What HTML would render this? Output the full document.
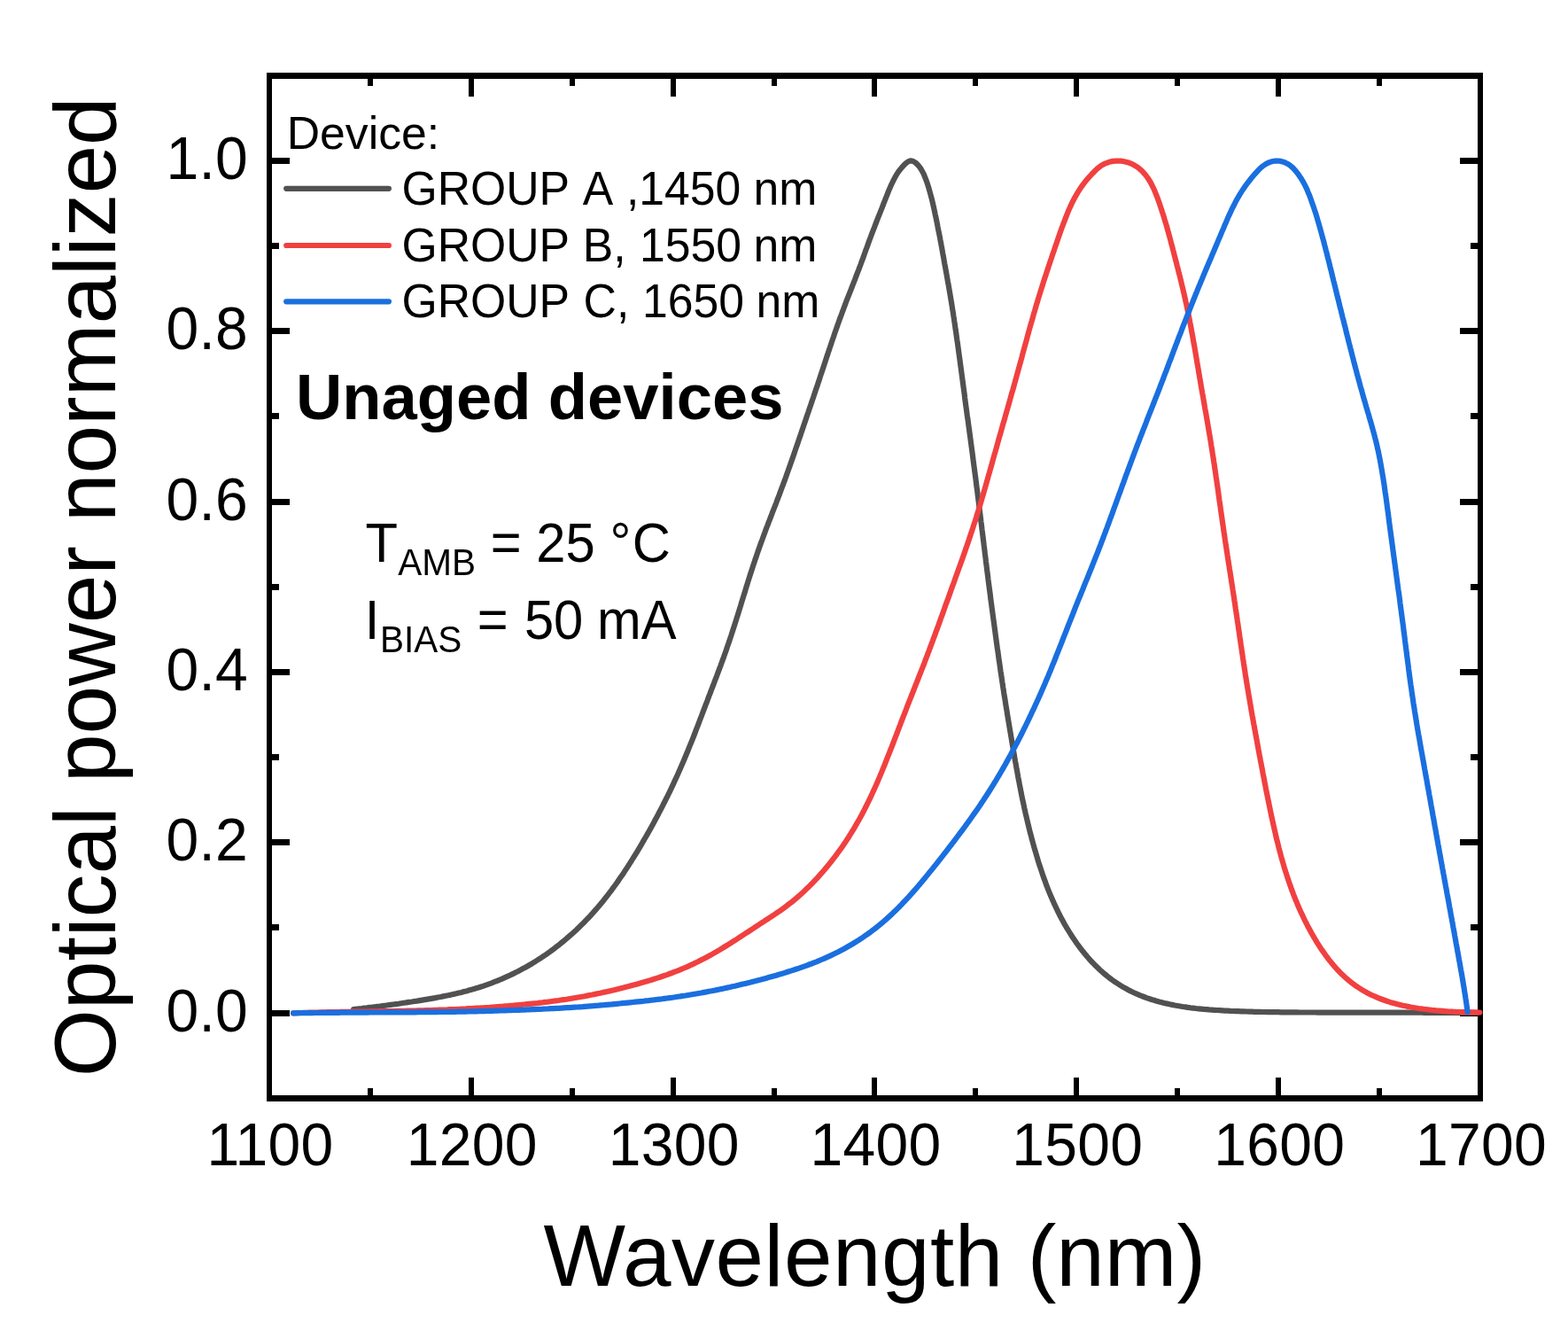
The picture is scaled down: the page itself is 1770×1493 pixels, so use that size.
<!DOCTYPE html>
<html lang="en"><head><meta charset="utf-8"><title>Normalized optical power vs wavelength</title>
<style>
html,body{margin:0;padding:0;background:#fff;}
body{width:1770px;height:1493px;overflow:hidden;}
svg{display:block;}
text{font-family:"Liberation Sans",Arial,Helvetica,sans-serif;fill:#000;white-space:pre;}
.cv{fill:none;stroke-width:6.20;stroke-linejoin:round;stroke-linecap:round;}
</style></head><body>
<svg width="1770" height="1493" viewBox="0 0 1770 1493" role="img" aria-label="Normalized optical power versus wavelength for unaged devices">
<rect x="0" y="0" width="1770" height="1493" fill="#fff"/>
<g id="axes" fill="#000" shape-rendering="crispEdges">
<rect x="415" y="1228" width="6" height="9"/><rect x="415" y="88" width="6" height="9"/><rect x="529" y="1216" width="6" height="21"/><rect x="529" y="88" width="6" height="21"/><rect x="643" y="1228" width="6" height="9"/><rect x="643" y="88" width="6" height="9"/><rect x="757" y="1216" width="6" height="21"/><rect x="757" y="88" width="6" height="21"/><rect x="871" y="1228" width="6" height="9"/><rect x="871" y="88" width="6" height="9"/><rect x="984" y="1216" width="6" height="21"/><rect x="984" y="88" width="6" height="21"/><rect x="1098" y="1228" width="6" height="9"/><rect x="1098" y="88" width="6" height="9"/><rect x="1212" y="1216" width="6" height="21"/><rect x="1212" y="88" width="6" height="21"/><rect x="1326" y="1228" width="6" height="9"/><rect x="1326" y="88" width="6" height="9"/><rect x="1440" y="1216" width="6" height="21"/><rect x="1440" y="88" width="6" height="21"/><rect x="1554" y="1228" width="6" height="9"/><rect x="1554" y="88" width="6" height="9"/><rect x="306" y="1140" width="21" height="7"/><rect x="1648" y="1140" width="21" height="7"/><rect x="306" y="1043" width="9" height="7"/><rect x="1660" y="1043" width="9" height="7"/><rect x="306" y="947" width="21" height="7"/><rect x="1648" y="947" width="21" height="7"/><rect x="306" y="851" width="9" height="7"/><rect x="1660" y="851" width="9" height="7"/><rect x="306" y="755" width="21" height="7"/><rect x="1648" y="755" width="21" height="7"/><rect x="306" y="659" width="9" height="7"/><rect x="1660" y="659" width="9" height="7"/><rect x="306" y="563" width="21" height="7"/><rect x="1648" y="563" width="21" height="7"/><rect x="306" y="466" width="9" height="7"/><rect x="1660" y="466" width="9" height="7"/><rect x="306" y="370" width="21" height="7"/><rect x="1648" y="370" width="21" height="7"/><rect x="306" y="274" width="9" height="7"/><rect x="1660" y="274" width="9" height="7"/><rect x="306" y="178" width="21" height="7"/><rect x="1648" y="178" width="21" height="7"/><rect x="306" y="82" width="9" height="7"/><rect x="1660" y="82" width="9" height="7"/><rect x="301" y="82" width="1373" height="7"/><rect x="301" y="1236" width="1373" height="7"/><rect x="301" y="82" width="6" height="1161"/><rect x="1668" y="82" width="6" height="1161"/>
</g>
<g id="curves">
<path class="cv" stroke="#515151" d="M399.2 1139.0L402.2 1138.7 405.2 1138.3 408.1 1138.0 411.1 1137.6 414.1 1137.3 417.1 1136.9 420.1 1136.6 423.0 1136.2 426.0 1135.8 429.0 1135.5 432.0 1135.1 434.9 1134.7 437.9 1134.3 440.9 1133.9 443.9 1133.5 446.9 1133.1 449.8 1132.7 452.8 1132.2 455.8 1131.8 458.7 1131.4 461.7 1130.9 464.7 1130.5 467.7 1130.0 470.6 1129.6 473.6 1129.1 476.6 1128.6 479.5 1128.1 482.5 1127.6 485.5 1127.1 488.4 1126.6 491.4 1126.1 494.3 1125.5 497.3 1125.0 500.2 1124.4 503.2 1123.8 506.1 1123.2 509.0 1122.6 512.0 1121.9 514.9 1121.3 517.8 1120.6 520.7 1119.9 523.6 1119.1 526.5 1118.4 529.4 1117.6 532.3 1116.8 535.2 1115.9 538.0 1115.1 540.9 1114.2 543.8 1113.3 546.6 1112.3 549.4 1111.3 552.2 1110.3 555.0 1109.3 557.8 1108.2 560.6 1107.1 563.4 1106.0 566.2 1104.8 568.9 1103.6 571.6 1102.4 574.4 1101.2 577.1 1099.9 579.8 1098.6 582.4 1097.3 585.1 1095.9 587.8 1094.5 590.4 1093.1 593.0 1091.7 595.6 1090.2 598.2 1088.7 600.8 1087.2 603.4 1085.6 605.9 1084.0 608.4 1082.4 610.9 1080.8 613.4 1079.1 615.9 1077.5 618.4 1075.7 620.8 1074.0 623.2 1072.2 625.6 1070.4 628.0 1068.6 630.4 1066.8 632.7 1064.9 635.0 1063.0 637.3 1061.1 639.6 1059.2 641.9 1057.2 644.2 1055.2 646.4 1053.2 648.6 1051.2 650.8 1049.2 653.0 1047.1 655.1 1045.0 657.2 1042.9 659.4 1040.8 661.4 1038.6 663.5 1036.5 665.6 1034.3 667.6 1032.1 669.6 1029.9 671.6 1027.6 673.6 1025.4 675.5 1023.1 677.5 1020.8 679.4 1018.5 681.3 1016.2 683.1 1013.8 685.0 1011.5 686.8 1009.1 688.7 1006.7 690.5 1004.3 692.2 1001.9 694.0 999.5 695.8 997.0 697.5 994.6 699.2 992.1 700.9 989.6 702.6 987.2 704.3 984.7 705.9 982.2 707.6 979.6 709.2 977.1 710.8 974.6 712.4 972.1 714.0 969.5 715.6 967.0 717.2 964.4 718.8 961.8 720.3 959.3 721.9 956.7 723.4 954.1 724.9 951.5 726.4 948.9 727.9 946.3 729.4 943.7 730.9 941.1 732.4 938.5 733.9 935.9 735.3 933.2 736.8 930.6 738.2 928.0 739.6 925.3 741.0 922.7 742.5 920.0 743.8 917.4 745.2 914.7 746.6 912.1 748.0 909.4 749.3 906.7 750.7 904.0 752.0 901.3 753.4 898.7 754.7 896.0 756.0 893.3 757.3 890.6 758.6 887.9 759.9 885.1 761.1 882.4 762.4 879.7 763.6 877.0 764.9 874.2 766.1 871.5 767.3 868.8 768.5 866.0 769.7 863.3 770.9 860.5 772.1 857.8 773.2 855.0 774.4 852.2 775.5 849.5 776.7 846.7 777.8 843.9 778.9 841.1 780.1 838.3 781.2 835.6 782.3 832.8 783.4 830.0 784.5 827.2 785.5 824.4 786.6 821.6 787.7 818.8 788.8 816.0 789.8 813.2 790.9 810.4 792.0 807.6 793.0 804.8 794.1 802.0 795.2 799.2 796.2 796.4 797.3 793.6 798.4 790.8 799.4 788.0 800.5 785.2 801.6 782.4 802.6 779.6 803.7 776.8 804.8 774.0 805.9 771.2 806.9 768.4 808.0 765.6 809.1 762.8 810.1 760.0 811.2 757.2 812.2 754.4 813.3 751.6 814.3 748.8 815.3 746.0 816.4 743.2 817.4 740.3 818.4 737.5 819.4 734.7 820.4 731.9 821.3 729.0 822.3 726.2 823.3 723.4 824.2 720.5 825.2 717.7 826.1 714.8 827.0 712.0 828.0 709.1 828.9 706.3 829.8 703.4 830.7 700.6 831.6 697.7 832.5 694.8 833.4 692.0 834.3 689.1 835.2 686.2 836.1 683.4 836.9 680.5 837.8 677.6 838.7 674.8 839.6 671.9 840.5 669.0 841.4 666.2 842.2 663.3 843.1 660.5 844.0 657.6 844.9 654.7 845.8 651.9 846.7 649.0 847.6 646.2 848.6 643.3 849.5 640.4 850.4 637.6 851.4 634.8 852.3 631.9 853.3 629.1 854.3 626.2 855.2 623.4 856.2 620.6 857.2 617.7 858.2 614.9 859.2 612.1 860.3 609.3 861.3 606.5 862.3 603.7 863.4 600.8 864.4 598.0 865.5 595.2 866.6 592.4 867.6 589.6 868.7 586.8 869.8 584.0 870.9 581.2 871.9 578.4 873.0 575.6 874.1 572.9 875.2 570.1 876.3 567.3 877.3 564.5 878.4 561.7 879.5 558.9 880.5 556.1 881.6 553.2 882.6 550.4 883.7 547.6 884.7 544.8 885.8 542.0 886.8 539.2 887.8 536.4 888.8 533.5 889.8 530.7 890.8 527.9 891.8 525.1 892.8 522.2 893.8 519.4 894.8 516.6 895.8 513.7 896.8 510.9 897.7 508.1 898.7 505.2 899.7 502.4 900.7 499.6 901.6 496.7 902.6 493.9 903.6 491.1 904.5 488.2 905.5 485.4 906.5 482.5 907.4 479.7 908.4 476.9 909.4 474.0 910.3 471.2 911.3 468.3 912.3 465.5 913.2 462.7 914.2 459.8 915.2 457.0 916.1 454.1 917.1 451.3 918.1 448.5 919.0 445.6 920.0 442.8 920.9 439.9 921.9 437.1 922.9 434.2 923.8 431.4 924.8 428.6 925.7 425.7 926.6 422.9 927.6 420.0 928.5 417.2 929.5 414.3 930.4 411.5 931.4 408.6 932.3 405.8 933.2 402.9 934.2 400.1 935.1 397.2 936.1 394.4 937.0 391.6 938.0 388.7 938.9 385.9 939.9 383.0 940.9 380.2 941.8 377.4 942.8 374.5 943.8 371.7 944.8 368.9 945.8 366.0 946.8 363.2 947.8 360.4 948.8 357.6 949.9 354.8 950.9 352.0 952.0 349.2 953.0 346.3 954.1 343.5 955.1 340.7 956.2 337.9 957.3 335.2 958.4 332.4 959.5 329.6 960.6 326.8 961.7 324.0 962.8 321.2 963.9 318.4 965.0 315.6 966.0 312.8 967.1 310.0 968.2 307.2 969.3 304.4 970.3 301.6 971.4 298.8 972.4 296.0 973.5 293.2 974.5 290.4 975.5 287.5 976.5 284.7 977.5 281.9 978.6 279.1 979.6 276.2 980.6 273.4 981.6 270.6 982.7 267.8 983.7 265.0 984.8 262.2 985.9 259.4 987.0 256.6 988.0 253.8 989.1 251.0 990.2 248.2 991.3 245.4 992.4 242.6 993.5 239.8 994.6 237.1 995.7 234.3 996.8 231.5 997.9 228.7 999.0 225.9 1000.1 223.1 1001.2 220.3 1002.3 217.5 1003.4 214.7 1004.6 212.0 1005.8 209.2 1007.1 206.5 1008.4 203.8 1009.8 201.1 1011.2 198.5 1012.8 195.9 1014.4 193.5 1016.2 191.2 1018.1 188.9 1020.2 186.6 1022.6 184.3 1025.1 182.4 1027.8 181.4 1030.5 181.8 1033.2 183.4 1035.6 185.6 1037.7 188.0 1039.4 190.4 1040.9 193.0 1042.3 195.6 1043.5 198.3 1044.6 201.1 1045.7 203.9 1046.7 206.8 1047.6 209.6 1048.5 212.5 1049.3 215.4 1050.1 218.3 1050.9 221.2 1051.7 224.1 1052.4 227.0 1053.1 229.9 1053.7 232.8 1054.4 235.8 1055.0 238.7 1055.6 241.6 1056.3 244.6 1056.9 247.5 1057.5 250.4 1058.1 253.4 1058.6 256.3 1059.2 259.3 1059.8 262.2 1060.4 265.2 1061.0 268.1 1061.5 271.1 1062.1 274.0 1062.6 276.9 1063.2 279.9 1063.7 282.9 1064.2 285.8 1064.8 288.8 1065.3 291.7 1065.8 294.7 1066.3 297.6 1066.9 300.6 1067.4 303.5 1067.9 306.5 1068.5 309.4 1069.0 312.4 1069.5 315.3 1070.0 318.3 1070.6 321.2 1071.1 324.2 1071.6 327.1 1072.1 330.1 1072.6 333.1 1073.1 336.0 1073.6 339.0 1074.1 341.9 1074.6 344.9 1075.0 347.9 1075.5 350.8 1076.0 353.8 1076.4 356.7 1076.9 359.7 1077.3 362.7 1077.8 365.6 1078.2 368.6 1078.6 371.6 1079.1 374.5 1079.5 377.5 1079.9 380.5 1080.3 383.4 1080.8 386.4 1081.2 389.4 1081.6 392.4 1082.0 395.3 1082.4 398.3 1082.8 401.3 1083.2 404.2 1083.6 407.2 1084.0 410.2 1084.4 413.2 1084.8 416.1 1085.2 419.1 1085.6 422.1 1086.0 425.1 1086.4 428.0 1086.8 431.0 1087.2 434.0 1087.6 437.0 1088.0 439.9 1088.4 442.9 1088.8 445.9 1089.1 448.8 1089.5 451.8 1089.9 454.8 1090.3 457.8 1090.7 460.7 1091.1 463.7 1091.5 466.7 1091.9 469.7 1092.4 472.6 1092.8 475.6 1093.2 478.6 1093.6 481.6 1094.0 484.5 1094.4 487.5 1094.8 490.5 1095.2 493.4 1095.6 496.4 1096.0 499.4 1096.4 502.4 1096.8 505.3 1097.2 508.3 1097.6 511.3 1098.0 514.3 1098.3 517.2 1098.7 520.2 1099.1 523.2 1099.5 526.2 1099.9 529.1 1100.3 532.1 1100.7 535.1 1101.1 538.0 1101.5 541.0 1101.8 544.0 1102.2 547.0 1102.6 550.0 1103.0 552.9 1103.4 555.9 1103.7 558.9 1104.1 561.9 1104.5 564.8 1104.9 567.8 1105.2 570.8 1105.6 573.8 1106.0 576.7 1106.3 579.7 1106.7 582.7 1107.1 585.7 1107.4 588.6 1107.8 591.6 1108.2 594.6 1108.5 597.6 1108.9 600.6 1109.3 603.5 1109.6 606.5 1110.0 609.5 1110.4 612.5 1110.7 615.4 1111.1 618.4 1111.5 621.4 1111.8 624.4 1112.2 627.4 1112.6 630.3 1112.9 633.3 1113.3 636.3 1113.7 639.3 1114.0 642.2 1114.4 645.2 1114.8 648.2 1115.2 651.2 1115.5 654.1 1115.9 657.1 1116.3 660.1 1116.7 663.1 1117.1 666.0 1117.5 669.0 1117.9 672.0 1118.2 675.0 1118.6 677.9 1119.0 680.9 1119.4 683.9 1119.8 686.9 1120.2 689.8 1120.6 692.8 1121.0 695.8 1121.4 698.8 1121.8 701.7 1122.2 704.7 1122.6 707.7 1123.0 710.7 1123.4 713.6 1123.8 716.6 1124.2 719.6 1124.6 722.5 1125.0 725.5 1125.4 728.5 1125.8 731.5 1126.3 734.4 1126.7 737.4 1127.1 740.4 1127.5 743.3 1127.9 746.3 1128.4 749.3 1128.8 752.2 1129.2 755.2 1129.6 758.2 1130.1 761.1 1130.5 764.1 1131.0 767.1 1131.4 770.0 1131.9 773.0 1132.3 776.0 1132.8 778.9 1133.2 781.9 1133.7 784.9 1134.2 787.8 1134.7 790.8 1135.1 793.8 1135.6 796.7 1136.1 799.7 1136.6 802.6 1137.0 805.6 1137.5 808.6 1138.0 811.5 1138.5 814.5 1139.0 817.4 1139.5 820.4 1140.0 823.4 1140.5 826.3 1141.0 829.3 1141.5 832.2 1142.0 835.2 1142.5 838.2 1143.0 841.1 1143.5 844.1 1144.0 847.0 1144.5 850.0 1145.0 852.9 1145.5 855.9 1146.0 858.8 1146.6 861.8 1147.1 864.8 1147.6 867.7 1148.2 870.7 1148.7 873.6 1149.2 876.6 1149.8 879.5 1150.4 882.5 1150.9 885.4 1151.5 888.3 1152.1 891.3 1152.6 894.2 1153.2 897.2 1153.8 900.1 1154.4 903.1 1155.1 906.0 1155.7 908.9 1156.3 911.9 1157.0 914.8 1157.6 917.7 1158.3 920.6 1159.0 923.6 1159.7 926.5 1160.4 929.4 1161.1 932.3 1161.8 935.2 1162.5 938.1 1163.3 941.1 1164.1 944.0 1164.8 946.9 1165.6 949.8 1166.4 952.7 1167.2 955.6 1168.0 958.5 1168.9 961.3 1169.7 964.2 1170.6 967.1 1171.4 970.0 1172.3 972.9 1173.2 975.7 1174.2 978.6 1175.1 981.4 1176.1 984.3 1177.0 987.1 1178.0 990.0 1179.1 992.8 1180.1 995.6 1181.1 998.5 1182.2 1001.3 1183.3 1004.1 1184.4 1006.9 1185.6 1009.7 1186.8 1012.4 1187.9 1015.2 1189.2 1017.9 1190.4 1020.7 1191.7 1023.4 1193.0 1026.1 1194.3 1028.8 1195.6 1031.5 1197.0 1034.2 1198.4 1036.9 1199.9 1039.5 1201.3 1042.2 1202.8 1044.8 1204.3 1047.4 1205.9 1049.9 1207.5 1052.5 1209.1 1055.0 1210.7 1057.6 1212.4 1060.1 1214.1 1062.5 1215.8 1065.0 1217.6 1067.4 1219.4 1069.8 1221.2 1072.2 1223.1 1074.5 1224.9 1076.8 1226.9 1079.1 1228.8 1081.4 1230.8 1083.6 1232.8 1085.8 1234.9 1087.9 1237.0 1090.1 1239.1 1092.1 1241.3 1094.2 1243.5 1096.2 1245.7 1098.1 1248.0 1100.0 1250.3 1101.9 1252.6 1103.7 1255.0 1105.5 1257.4 1107.2 1259.9 1108.9 1262.4 1110.5 1264.9 1112.1 1267.4 1113.6 1270.0 1115.1 1272.6 1116.5 1275.2 1117.9 1277.9 1119.2 1280.5 1120.5 1283.2 1121.7 1286.0 1122.9 1288.7 1124.0 1291.5 1125.0 1294.3 1126.1 1297.1 1127.0 1300.0 1128.0 1302.8 1128.8 1305.7 1129.7 1308.6 1130.5 1311.5 1131.2 1314.4 1132.0 1317.3 1132.6 1320.2 1133.3 1323.2 1133.9 1326.1 1134.5 1329.1 1135.0 1332.0 1135.5 1335.0 1136.0 1338.0 1136.4 1340.9 1136.9 1343.9 1137.3 1346.9 1137.6 1349.9 1138.0 1352.9 1138.3 1355.9 1138.6 1358.9 1138.9 1361.9 1139.1 1364.9 1139.4 1367.9 1139.6 1370.9 1139.8 1373.9 1140.0 1376.9 1140.2 1379.9 1140.4 1382.9 1140.6 1385.9 1140.7 1388.9 1140.9 1391.9 1141.0 1394.9 1141.1 1397.9 1141.2 1400.9 1141.3 1404.0 1141.4 1407.0 1141.5 1410.0 1141.6 1413.0 1141.7 1416.0 1141.8 1419.0 1141.8 1422.0 1141.9 1425.0 1142.0 1428.0 1142.0 1431.0 1142.1 1434.0 1142.1 1437.0 1142.2 1440.0 1142.2 1443.0 1142.2 1446.0 1142.3 1449.0 1142.3 1452.0 1142.3 1455.0 1142.4 1458.0 1142.4 1461.0 1142.4 1464.0 1142.4 1467.0 1142.5 1470.0 1142.5 1473.0 1142.5 1476.0 1142.5 1479.0 1142.5 1482.0 1142.5 1485.0 1142.5 1488.0 1142.6 1491.0 1142.6 1494.0 1142.6 1497.0 1142.6 1500.0 1142.6 1503.0 1142.6 1506.0 1142.6 1509.0 1142.6 1512.0 1142.6 1515.0 1142.6 1518.0 1142.6 1521.0 1142.6 1524.0 1142.6 1527.0 1142.6 1530.0 1142.6 1533.0 1142.6 1536.0 1142.6 1539.0 1142.6 1542.0 1142.6 1545.0 1142.6 1548.0 1142.7 1551.0 1142.7 1554.0 1142.7 1557.0 1142.7 1560.0 1142.7 1563.0 1142.7 1566.0 1142.7 1569.0 1142.7 1572.0 1142.7 1575.0 1142.7 1578.0 1142.7 1581.0 1142.7 1584.0 1142.7 1587.0 1142.7 1590.0 1142.7 1593.0 1142.7 1596.0 1142.7 1599.0 1142.7 1602.0 1142.7 1605.0 1142.7 1608.0 1142.8 1611.0 1142.8 1614.0 1142.8 1617.0 1142.8 1620.0 1142.8 1623.0 1142.8 1626.0 1142.8 1629.0 1142.8 1632.0 1142.8 1635.0 1142.8 1638.0 1142.8 1641.0 1142.8 1644.0 1142.8 1647.0 1142.8 1650.0 1142.8 1653.0 1142.8 1656.0 1142.8 1659.0 1142.8 1662.0 1142.8 1665.0 1142.8 1668.0 1142.8"/>
<path class="cv" stroke="#F14040" d="M331.2 1143.3L334.2 1143.2 337.2 1143.1 340.2 1143.0 343.2 1142.9 346.2 1142.8 349.2 1142.7 352.2 1142.6 355.2 1142.5 358.2 1142.5 361.2 1142.4 364.1 1142.3 367.1 1142.3 370.1 1142.2 373.1 1142.1 376.1 1142.1 379.1 1142.0 382.1 1142.0 385.1 1141.9 388.1 1141.9 391.1 1141.8 394.1 1141.8 397.1 1141.7 400.1 1141.7 403.1 1141.6 406.1 1141.6 409.1 1141.5 412.1 1141.5 415.1 1141.5 418.1 1141.4 421.1 1141.4 424.1 1141.3 427.1 1141.3 430.1 1141.2 433.1 1141.2 436.1 1141.1 439.1 1141.1 442.1 1141.0 445.1 1141.0 448.0 1140.9 451.0 1140.9 454.0 1140.8 457.0 1140.8 460.0 1140.7 463.0 1140.6 466.0 1140.6 469.0 1140.5 472.0 1140.4 475.0 1140.3 478.0 1140.3 481.0 1140.2 484.0 1140.1 487.0 1140.0 490.0 1139.9 493.0 1139.8 496.0 1139.7 499.0 1139.6 502.0 1139.5 505.0 1139.4 508.0 1139.2 511.0 1139.1 513.9 1139.0 516.9 1138.8 519.9 1138.7 522.9 1138.5 525.9 1138.4 528.9 1138.2 531.9 1138.1 534.9 1137.9 537.9 1137.7 540.9 1137.5 543.9 1137.3 546.9 1137.2 549.9 1137.0 552.9 1136.8 555.8 1136.5 558.8 1136.3 561.8 1136.1 564.8 1135.9 567.8 1135.7 570.8 1135.4 573.8 1135.2 576.8 1134.9 579.7 1134.7 582.7 1134.4 585.7 1134.1 588.7 1133.8 591.7 1133.5 594.7 1133.2 597.7 1132.9 600.6 1132.6 603.6 1132.3 606.6 1132.0 609.6 1131.6 612.5 1131.3 615.5 1130.9 618.5 1130.6 621.5 1130.2 624.4 1129.8 627.4 1129.4 630.4 1129.0 633.3 1128.5 636.3 1128.1 639.3 1127.7 642.2 1127.2 645.2 1126.7 648.1 1126.2 651.1 1125.7 654.1 1125.2 657.0 1124.7 660.0 1124.2 662.9 1123.6 665.8 1123.0 668.8 1122.5 671.7 1121.9 674.7 1121.3 677.6 1120.7 680.5 1120.0 683.5 1119.4 686.4 1118.7 689.3 1118.1 692.2 1117.4 695.2 1116.7 698.1 1116.0 701.0 1115.3 703.9 1114.6 706.8 1113.8 709.7 1113.1 712.6 1112.3 715.5 1111.5 718.4 1110.7 721.3 1109.9 724.2 1109.1 727.0 1108.3 729.9 1107.4 732.8 1106.6 735.7 1105.7 738.5 1104.8 741.4 1103.9 744.2 1103.0 747.0 1102.0 749.9 1101.0 752.7 1100.1 755.5 1099.0 758.3 1098.0 761.1 1096.9 763.9 1095.9 766.6 1094.8 769.4 1093.6 772.1 1092.5 774.9 1091.3 777.6 1090.1 780.3 1088.8 783.0 1087.6 785.7 1086.3 788.4 1085.0 791.0 1083.6 793.7 1082.3 796.3 1080.9 799.0 1079.5 801.6 1078.1 804.2 1076.6 806.8 1075.1 809.4 1073.6 812.0 1072.1 814.5 1070.6 817.1 1069.0 819.6 1067.5 822.2 1065.9 824.7 1064.3 827.2 1062.7 829.8 1061.1 832.3 1059.5 834.8 1057.8 837.3 1056.2 839.8 1054.5 842.3 1052.9 844.8 1051.3 847.4 1049.6 849.9 1048.0 852.4 1046.3 854.9 1044.7 857.4 1043.0 859.9 1041.4 862.4 1039.8 864.9 1038.1 867.5 1036.5 870.0 1034.8 872.5 1033.2 875.0 1031.5 877.4 1029.9 879.9 1028.2 882.4 1026.4 884.8 1024.7 887.2 1022.9 889.6 1021.1 892.0 1019.3 894.3 1017.5 896.6 1015.6 898.9 1013.7 901.2 1011.7 903.4 1009.7 905.6 1007.7 907.8 1005.7 910.0 1003.6 912.1 1001.6 914.3 999.4 916.4 997.3 918.4 995.2 920.5 993.0 922.5 990.8 924.5 988.6 926.5 986.3 928.5 984.1 930.5 981.8 932.4 979.5 934.3 977.2 936.2 974.9 938.1 972.5 939.9 970.2 941.7 967.8 943.6 965.4 945.3 963.0 947.1 960.6 948.9 958.2 950.6 955.7 952.3 953.2 954.0 950.8 955.6 948.3 957.3 945.8 958.9 943.2 960.5 940.7 962.0 938.2 963.6 935.6 965.1 933.0 966.6 930.4 968.1 927.8 969.6 925.2 971.0 922.6 972.5 920.0 973.9 917.3 975.3 914.7 976.6 912.0 978.0 909.3 979.3 906.7 980.6 904.0 981.9 901.3 983.2 898.6 984.5 895.8 985.7 893.1 987.0 890.4 988.2 887.6 989.4 884.9 990.6 882.2 991.8 879.4 993.0 876.6 994.1 873.9 995.3 871.1 996.4 868.3 997.6 865.6 998.7 862.8 999.8 860.0 1000.9 857.2 1002.0 854.4 1003.1 851.6 1004.2 848.8 1005.3 846.0 1006.4 843.3 1007.5 840.5 1008.6 837.7 1009.6 834.9 1010.7 832.1 1011.8 829.3 1012.9 826.5 1013.9 823.7 1015.0 820.9 1016.1 818.1 1017.1 815.3 1018.2 812.5 1019.3 809.7 1020.4 806.9 1021.5 804.1 1022.6 801.3 1023.6 798.5 1024.7 795.7 1025.8 792.9 1026.9 790.1 1028.0 787.3 1029.1 784.5 1030.2 781.8 1031.3 779.0 1032.4 776.2 1033.5 773.4 1034.6 770.6 1035.7 767.8 1036.8 765.0 1037.9 762.2 1039.0 759.5 1040.1 756.7 1041.2 753.9 1042.3 751.1 1043.4 748.3 1044.4 745.5 1045.5 742.7 1046.6 739.9 1047.6 737.1 1048.7 734.3 1049.7 731.5 1050.8 728.7 1051.8 725.9 1052.9 723.1 1053.9 720.3 1055.0 717.4 1056.0 714.6 1057.0 711.8 1058.1 709.0 1059.1 706.2 1060.1 703.4 1061.1 700.6 1062.1 697.7 1063.2 694.9 1064.2 692.1 1065.2 689.3 1066.2 686.5 1067.2 683.6 1068.2 680.8 1069.3 678.0 1070.3 675.2 1071.3 672.4 1072.3 669.6 1073.3 666.7 1074.3 663.9 1075.3 661.1 1076.4 658.3 1077.4 655.5 1078.4 652.6 1079.4 649.8 1080.4 647.0 1081.4 644.2 1082.4 641.4 1083.5 638.5 1084.5 635.7 1085.5 632.9 1086.5 630.1 1087.5 627.2 1088.5 624.4 1089.5 621.6 1090.4 618.8 1091.4 615.9 1092.4 613.1 1093.4 610.3 1094.3 607.4 1095.3 604.6 1096.2 601.7 1097.2 598.9 1098.1 596.1 1099.0 593.2 1099.9 590.4 1100.9 587.5 1101.8 584.6 1102.6 581.8 1103.5 578.9 1104.4 576.1 1105.3 573.2 1106.2 570.3 1107.0 567.5 1107.9 564.6 1108.7 561.7 1109.6 558.8 1110.4 556.0 1111.2 553.1 1112.1 550.2 1112.9 547.3 1113.7 544.4 1114.5 541.6 1115.3 538.7 1116.1 535.8 1117.0 532.9 1117.8 530.0 1118.6 527.1 1119.4 524.3 1120.2 521.4 1121.0 518.5 1121.8 515.6 1122.6 512.7 1123.5 509.8 1124.3 507.0 1125.1 504.1 1125.9 501.2 1126.7 498.3 1127.5 495.4 1128.3 492.5 1129.2 489.7 1130.0 486.8 1130.8 483.9 1131.6 481.0 1132.4 478.1 1133.3 475.2 1134.1 472.4 1134.9 469.5 1135.7 466.6 1136.5 463.7 1137.4 460.8 1138.2 457.9 1139.0 455.1 1139.8 452.2 1140.6 449.3 1141.4 446.4 1142.2 443.5 1143.1 440.6 1143.9 437.8 1144.7 434.9 1145.5 432.0 1146.3 429.1 1147.1 426.2 1147.9 423.3 1148.7 420.4 1149.5 417.5 1150.3 414.7 1151.1 411.8 1151.9 408.9 1152.7 406.0 1153.5 403.1 1154.2 400.2 1155.0 397.3 1155.8 394.4 1156.6 391.5 1157.4 388.6 1158.2 385.7 1159.0 382.9 1159.7 380.0 1160.5 377.1 1161.3 374.2 1162.1 371.3 1162.9 368.4 1163.7 365.5 1164.6 362.6 1165.4 359.8 1166.2 356.9 1167.0 354.0 1167.9 351.1 1168.7 348.3 1169.5 345.4 1170.4 342.5 1171.3 339.7 1172.1 336.8 1173.0 333.9 1173.9 331.1 1174.8 328.2 1175.7 325.3 1176.6 322.5 1177.5 319.6 1178.4 316.8 1179.3 313.9 1180.3 311.1 1181.2 308.3 1182.1 305.4 1183.1 302.6 1184.0 299.7 1185.0 296.9 1185.9 294.0 1186.9 291.2 1187.8 288.4 1188.8 285.5 1189.8 282.7 1190.7 279.9 1191.7 277.0 1192.7 274.2 1193.7 271.3 1194.6 268.5 1195.6 265.7 1196.6 262.9 1197.6 260.0 1198.6 257.2 1199.7 254.4 1200.7 251.6 1201.8 248.8 1202.9 246.0 1204.0 243.2 1205.1 240.4 1206.2 237.6 1207.4 234.9 1208.7 232.1 1209.9 229.4 1211.3 226.7 1212.6 224.1 1214.1 221.5 1215.6 218.9 1217.1 216.3 1218.7 213.8 1220.4 211.3 1222.1 208.9 1223.9 206.5 1225.7 204.1 1227.7 201.8 1229.6 199.6 1231.7 197.4 1233.7 195.2 1235.9 193.0 1238.0 190.9 1240.3 189.0 1242.7 187.2 1245.3 185.6 1248.0 184.3 1250.8 183.3 1253.7 182.4 1256.7 181.9 1259.8 181.6 1262.8 181.5 1265.8 181.7 1268.8 182.2 1271.8 182.9 1274.7 183.8 1277.5 184.9 1280.2 186.3 1282.7 187.8 1285.2 189.6 1287.5 191.5 1289.7 193.6 1291.7 195.8 1293.6 198.1 1295.4 200.5 1297.0 203.0 1298.6 205.5 1300.0 208.2 1301.3 210.8 1302.6 213.5 1303.8 216.3 1304.9 219.1 1306.0 221.9 1307.1 224.7 1308.1 227.6 1309.1 230.4 1310.0 233.3 1311.0 236.1 1311.9 239.0 1312.9 241.9 1313.8 244.7 1314.6 247.6 1315.5 250.5 1316.4 253.4 1317.2 256.2 1318.0 259.1 1318.8 262.0 1319.6 264.9 1320.4 267.8 1321.2 270.7 1321.9 273.6 1322.7 276.5 1323.5 279.4 1324.2 282.3 1325.0 285.2 1325.7 288.1 1326.5 291.0 1327.2 293.9 1328.0 296.8 1328.7 299.7 1329.5 302.6 1330.2 305.5 1330.9 308.4 1331.7 311.3 1332.4 314.2 1333.1 317.1 1333.8 320.0 1334.5 322.9 1335.2 325.8 1335.9 328.8 1336.6 331.7 1337.2 334.6 1337.9 337.5 1338.5 340.4 1339.2 343.4 1339.8 346.3 1340.4 349.2 1341.0 352.2 1341.6 355.1 1342.2 358.0 1342.8 361.0 1343.3 363.9 1343.9 366.8 1344.5 369.8 1345.0 372.7 1345.5 375.7 1346.1 378.6 1346.6 381.6 1347.1 384.5 1347.6 387.5 1348.2 390.4 1348.7 393.4 1349.2 396.3 1349.7 399.3 1350.2 402.2 1350.7 405.2 1351.2 408.2 1351.7 411.1 1352.2 414.1 1352.7 417.0 1353.2 420.0 1353.7 422.9 1354.2 425.9 1354.7 428.8 1355.2 431.8 1355.7 434.7 1356.2 437.7 1356.7 440.6 1357.2 443.6 1357.8 446.5 1358.3 449.5 1358.8 452.5 1359.3 455.4 1359.8 458.4 1360.3 461.3 1360.9 464.3 1361.4 467.2 1361.9 470.2 1362.4 473.1 1362.9 476.1 1363.4 479.0 1363.9 482.0 1364.4 484.9 1364.9 487.9 1365.4 490.8 1365.9 493.8 1366.4 496.8 1366.9 499.7 1367.3 502.7 1367.8 505.6 1368.3 508.6 1368.7 511.5 1369.2 514.5 1369.7 517.5 1370.1 520.4 1370.6 523.4 1371.0 526.4 1371.4 529.3 1371.9 532.3 1372.3 535.2 1372.7 538.2 1373.2 541.2 1373.6 544.1 1374.0 547.1 1374.5 550.1 1374.9 553.0 1375.3 556.0 1375.7 559.0 1376.1 561.9 1376.5 564.9 1377.0 567.9 1377.4 570.9 1377.8 573.8 1378.2 576.8 1378.6 579.8 1379.1 582.7 1379.5 585.7 1379.9 588.7 1380.3 591.6 1380.8 594.6 1381.2 597.5 1381.6 600.5 1382.1 603.5 1382.5 606.4 1382.9 609.4 1383.4 612.4 1383.8 615.3 1384.3 618.3 1384.7 621.3 1385.2 624.2 1385.6 627.2 1386.1 630.1 1386.5 633.1 1387.0 636.1 1387.5 639.0 1387.9 642.0 1388.4 644.9 1388.9 647.9 1389.3 650.9 1389.8 653.8 1390.2 656.8 1390.7 659.7 1391.2 662.7 1391.6 665.7 1392.1 668.6 1392.5 671.6 1393.0 674.6 1393.4 677.5 1393.9 680.5 1394.3 683.4 1394.7 686.4 1395.2 689.4 1395.6 692.3 1396.1 695.3 1396.5 698.3 1396.9 701.2 1397.4 704.2 1397.8 707.2 1398.2 710.1 1398.7 713.1 1399.1 716.1 1399.5 719.0 1400.0 722.0 1400.4 725.0 1400.8 727.9 1401.3 730.9 1401.7 733.8 1402.1 736.8 1402.6 739.8 1403.0 742.7 1403.5 745.7 1403.9 748.7 1404.4 751.6 1404.8 754.6 1405.3 757.5 1405.7 760.5 1406.2 763.5 1406.7 766.4 1407.1 769.4 1407.6 772.3 1408.1 775.3 1408.6 778.3 1409.1 781.2 1409.6 784.2 1410.1 787.1 1410.6 790.1 1411.1 793.0 1411.6 796.0 1412.1 798.9 1412.6 801.9 1413.1 804.8 1413.6 807.8 1414.2 810.7 1414.7 813.7 1415.2 816.6 1415.8 819.6 1416.3 822.5 1416.8 825.5 1417.4 828.4 1417.9 831.4 1418.5 834.3 1419.0 837.3 1419.5 840.2 1420.1 843.2 1420.6 846.1 1421.2 849.1 1421.7 852.0 1422.3 855.0 1422.8 857.9 1423.4 860.8 1424.0 863.8 1424.5 866.7 1425.1 869.7 1425.6 872.6 1426.2 875.6 1426.8 878.5 1427.3 881.5 1427.9 884.4 1428.5 887.4 1429.0 890.3 1429.6 893.2 1430.2 896.2 1430.8 899.1 1431.4 902.1 1432.0 905.0 1432.6 907.9 1433.2 910.9 1433.8 913.8 1434.4 916.7 1435.0 919.7 1435.6 922.6 1436.3 925.5 1436.9 928.5 1437.6 931.4 1438.2 934.3 1438.9 937.3 1439.6 940.2 1440.2 943.1 1440.9 946.0 1441.6 948.9 1442.4 951.8 1443.1 954.7 1443.8 957.6 1444.6 960.5 1445.4 963.4 1446.1 966.3 1446.9 969.2 1447.8 972.1 1448.6 975.0 1449.4 977.9 1450.3 980.7 1451.2 983.6 1452.1 986.4 1453.0 989.3 1454.0 992.1 1454.9 995.0 1455.9 997.8 1456.9 1000.6 1457.9 1003.5 1459.0 1006.3 1460.0 1009.1 1461.1 1011.9 1462.2 1014.7 1463.4 1017.4 1464.5 1020.2 1465.7 1023.0 1466.9 1025.7 1468.1 1028.5 1469.4 1031.2 1470.7 1033.9 1472.0 1036.7 1473.3 1039.4 1474.7 1042.0 1476.0 1044.7 1477.4 1047.4 1478.9 1050.0 1480.3 1052.7 1481.8 1055.3 1483.3 1057.9 1484.9 1060.5 1486.4 1063.1 1488.0 1065.6 1489.6 1068.1 1491.3 1070.7 1493.0 1073.1 1494.7 1075.6 1496.4 1078.0 1498.2 1080.4 1500.0 1082.8 1501.9 1085.2 1503.8 1087.5 1505.7 1089.7 1507.6 1092.0 1509.6 1094.2 1511.7 1096.3 1513.7 1098.4 1515.9 1100.5 1518.0 1102.5 1520.2 1104.4 1522.5 1106.3 1524.7 1108.2 1527.1 1110.0 1529.4 1111.7 1531.8 1113.4 1534.3 1115.0 1536.8 1116.6 1539.3 1118.1 1541.8 1119.5 1544.4 1120.9 1547.0 1122.3 1549.7 1123.5 1552.4 1124.7 1555.1 1125.9 1557.9 1127.0 1560.6 1128.0 1563.4 1129.0 1566.2 1130.0 1569.1 1130.9 1571.9 1131.7 1574.8 1132.5 1577.7 1133.3 1580.6 1134.0 1583.5 1134.7 1586.5 1135.3 1589.4 1135.9 1592.4 1136.5 1595.3 1137.0 1598.3 1137.5 1601.3 1138.0 1604.3 1138.4 1607.2 1138.8 1610.2 1139.2 1613.2 1139.5 1616.2 1139.9 1619.2 1140.2 1622.2 1140.5 1625.2 1140.7 1628.3 1140.9 1631.3 1141.2 1634.3 1141.4 1637.3 1141.5 1640.3 1141.7 1643.3 1141.8 1646.3 1142.0 1649.3 1142.1 1652.3 1142.2 1655.3 1142.3 1658.3 1142.3 1661.3 1142.4 1664.3 1142.4 1667.3 1142.5 1670.3 1142.5"/>
<path class="cv" stroke="#1A6FDF" d="M331.0 1143.3L334.0 1143.3 337.0 1143.2 340.0 1143.2 343.0 1143.2 346.0 1143.1 349.0 1143.1 352.0 1143.1 355.0 1143.0 358.0 1143.0 361.0 1143.0 364.0 1142.9 367.0 1142.9 370.0 1142.9 373.0 1142.8 376.0 1142.8 379.0 1142.8 382.0 1142.8 385.0 1142.7 387.9 1142.7 390.9 1142.7 393.9 1142.7 396.9 1142.7 399.9 1142.6 402.9 1142.6 405.9 1142.6 408.9 1142.6 411.9 1142.6 414.9 1142.6 417.9 1142.5 420.9 1142.5 423.9 1142.5 426.9 1142.5 429.9 1142.5 432.9 1142.5 435.9 1142.4 438.9 1142.4 441.9 1142.4 444.9 1142.4 447.9 1142.4 450.9 1142.4 453.9 1142.4 456.9 1142.3 459.9 1142.3 462.9 1142.3 465.9 1142.3 468.9 1142.3 471.9 1142.2 474.9 1142.2 477.9 1142.2 480.9 1142.2 483.9 1142.2 486.9 1142.1 489.9 1142.1 492.9 1142.1 495.9 1142.0 498.9 1142.0 501.9 1142.0 504.9 1141.9 507.8 1141.9 510.8 1141.8 513.8 1141.8 516.8 1141.7 519.8 1141.7 522.8 1141.6 525.8 1141.6 528.8 1141.5 531.8 1141.4 534.8 1141.4 537.8 1141.3 540.8 1141.2 543.8 1141.1 546.8 1141.1 549.8 1141.0 552.8 1140.9 555.8 1140.8 558.8 1140.7 561.8 1140.6 564.8 1140.5 567.8 1140.4 570.8 1140.3 573.8 1140.2 576.8 1140.1 579.8 1140.0 582.8 1139.9 585.8 1139.8 588.8 1139.7 591.7 1139.6 594.7 1139.4 597.7 1139.3 600.7 1139.2 603.7 1139.1 606.7 1138.9 609.7 1138.8 612.7 1138.7 615.7 1138.5 618.7 1138.4 621.7 1138.2 624.7 1138.1 627.7 1137.9 630.7 1137.8 633.7 1137.6 636.7 1137.4 639.6 1137.2 642.6 1137.1 645.6 1136.9 648.6 1136.7 651.6 1136.5 654.6 1136.3 657.6 1136.1 660.6 1135.8 663.6 1135.6 666.6 1135.4 669.5 1135.2 672.5 1134.9 675.5 1134.7 678.5 1134.4 681.5 1134.2 684.5 1133.9 687.5 1133.6 690.5 1133.4 693.4 1133.1 696.4 1132.8 699.4 1132.5 702.4 1132.2 705.4 1131.9 708.4 1131.6 711.3 1131.3 714.3 1131.0 717.3 1130.7 720.3 1130.4 723.3 1130.1 726.2 1129.8 729.2 1129.4 732.2 1129.1 735.2 1128.7 738.2 1128.4 741.1 1128.0 744.1 1127.6 747.1 1127.3 750.0 1126.9 753.0 1126.5 756.0 1126.1 759.0 1125.7 761.9 1125.3 764.9 1124.8 767.9 1124.4 770.8 1123.9 773.8 1123.5 776.7 1123.0 779.7 1122.5 782.6 1122.0 785.6 1121.5 788.6 1121.0 791.5 1120.5 794.5 1119.9 797.4 1119.4 800.3 1118.8 803.3 1118.3 806.2 1117.7 809.2 1117.1 812.1 1116.5 815.0 1115.9 818.0 1115.2 820.9 1114.6 823.8 1114.0 826.8 1113.3 829.7 1112.7 832.6 1112.0 835.5 1111.3 838.5 1110.6 841.4 1109.9 844.3 1109.2 847.2 1108.5 850.1 1107.7 853.0 1107.0 855.9 1106.2 858.9 1105.5 861.8 1104.7 864.7 1103.9 867.6 1103.1 870.5 1102.3 873.3 1101.5 876.2 1100.7 879.1 1099.8 882.0 1099.0 884.9 1098.1 887.7 1097.2 890.6 1096.3 893.5 1095.4 896.3 1094.5 899.2 1093.5 902.0 1092.6 904.8 1091.6 907.7 1090.6 910.5 1089.6 913.3 1088.5 916.1 1087.5 918.9 1086.4 921.7 1085.3 924.5 1084.1 927.2 1083.0 930.0 1081.8 932.7 1080.6 935.4 1079.4 938.2 1078.1 940.9 1076.8 943.5 1075.5 946.2 1074.2 948.9 1072.8 951.5 1071.4 954.1 1070.0 956.7 1068.5 959.3 1067.0 961.9 1065.5 964.4 1064.0 967.0 1062.4 969.5 1060.8 972.0 1059.2 974.5 1057.5 976.9 1055.8 979.4 1054.1 981.8 1052.4 984.2 1050.6 986.6 1048.8 988.9 1047.0 991.2 1045.1 993.6 1043.2 995.8 1041.3 998.1 1039.4 1000.4 1037.4 1002.6 1035.4 1004.8 1033.4 1007.0 1031.4 1009.1 1029.3 1011.3 1027.2 1013.4 1025.1 1015.5 1023.0 1017.6 1020.9 1019.6 1018.7 1021.7 1016.5 1023.7 1014.3 1025.8 1012.1 1027.8 1009.9 1029.8 1007.7 1031.8 1005.4 1033.7 1003.2 1035.7 1000.9 1037.6 998.6 1039.6 996.3 1041.5 994.0 1043.4 991.7 1045.3 989.4 1047.2 987.1 1049.1 984.7 1051.0 982.4 1052.9 980.1 1054.8 977.7 1056.7 975.4 1058.5 973.0 1060.4 970.6 1062.2 968.3 1064.1 965.9 1065.9 963.5 1067.8 961.2 1069.6 958.8 1071.4 956.4 1073.3 954.0 1075.1 951.7 1076.9 949.3 1078.7 946.9 1080.5 944.5 1082.3 942.1 1084.1 939.7 1085.9 937.3 1087.7 934.9 1089.5 932.5 1091.2 930.0 1093.0 927.6 1094.7 925.2 1096.5 922.7 1098.2 920.3 1099.9 917.9 1101.7 915.4 1103.4 912.9 1105.1 910.5 1106.8 908.0 1108.4 905.5 1110.1 903.0 1111.7 900.5 1113.4 898.0 1115.0 895.5 1116.6 893.0 1118.2 890.5 1119.8 887.9 1121.4 885.4 1122.9 882.8 1124.5 880.3 1126.0 877.7 1127.6 875.1 1129.1 872.5 1130.6 870.0 1132.1 867.4 1133.6 864.8 1135.1 862.2 1136.5 859.5 1138.0 856.9 1139.4 854.3 1140.9 851.7 1142.3 849.0 1143.7 846.4 1145.1 843.8 1146.5 841.1 1147.9 838.5 1149.3 835.8 1150.7 833.1 1152.0 830.5 1153.4 827.8 1154.7 825.1 1156.0 822.4 1157.4 819.7 1158.7 817.0 1160.0 814.3 1161.3 811.6 1162.6 808.9 1163.9 806.2 1165.1 803.5 1166.4 800.8 1167.7 798.1 1168.9 795.3 1170.2 792.6 1171.4 789.9 1172.6 787.2 1173.9 784.4 1175.1 781.7 1176.3 778.9 1177.5 776.2 1178.7 773.4 1179.9 770.7 1181.0 767.9 1182.2 765.2 1183.4 762.4 1184.5 759.6 1185.7 756.9 1186.8 754.1 1187.9 751.3 1189.1 748.6 1190.2 745.8 1191.3 743.0 1192.4 740.2 1193.5 737.4 1194.6 734.6 1195.7 731.9 1196.8 729.1 1197.9 726.3 1199.0 723.5 1200.1 720.7 1201.2 717.9 1202.3 715.1 1203.4 712.3 1204.5 709.5 1205.6 706.7 1206.7 703.9 1207.8 701.2 1208.9 698.4 1210.0 695.6 1211.1 692.8 1212.2 690.0 1213.3 687.2 1214.4 684.4 1215.5 681.7 1216.6 678.9 1217.7 676.1 1218.9 673.3 1220.0 670.5 1221.1 667.8 1222.3 665.0 1223.4 662.2 1224.5 659.4 1225.6 656.7 1226.8 653.9 1227.9 651.1 1229.0 648.3 1230.1 645.5 1231.3 642.8 1232.4 640.0 1233.5 637.2 1234.6 634.4 1235.7 631.6 1236.8 628.8 1237.9 626.1 1239.0 623.3 1240.1 620.5 1241.2 617.7 1242.3 614.9 1243.3 612.1 1244.4 609.3 1245.5 606.5 1246.5 603.7 1247.6 600.9 1248.6 598.1 1249.7 595.3 1250.7 592.5 1251.8 589.7 1252.8 586.8 1253.8 584.0 1254.9 581.2 1255.9 578.4 1256.9 575.6 1257.9 572.8 1259.0 569.9 1260.0 567.1 1261.0 564.3 1262.0 561.5 1263.0 558.7 1264.1 555.9 1265.1 553.0 1266.1 550.2 1267.1 547.4 1268.2 544.6 1269.2 541.8 1270.2 539.0 1271.2 536.1 1272.3 533.3 1273.3 530.5 1274.4 527.7 1275.4 524.9 1276.4 522.1 1277.5 519.3 1278.5 516.5 1279.6 513.7 1280.6 510.9 1281.7 508.0 1282.8 505.2 1283.8 502.4 1284.9 499.6 1286.0 496.8 1287.0 494.0 1288.1 491.3 1289.2 488.5 1290.3 485.7 1291.4 482.9 1292.5 480.1 1293.6 477.3 1294.6 474.5 1295.7 471.7 1296.8 468.9 1297.9 466.1 1299.0 463.3 1300.1 460.6 1301.2 457.8 1302.3 455.0 1303.4 452.2 1304.5 449.4 1305.6 446.6 1306.7 443.8 1307.8 441.0 1308.9 438.2 1309.9 435.4 1311.0 432.6 1312.1 429.8 1313.2 427.0 1314.2 424.2 1315.3 421.4 1316.4 418.6 1317.4 415.8 1318.5 413.0 1319.5 410.2 1320.6 407.4 1321.7 404.6 1322.7 401.8 1323.8 399.0 1324.8 396.2 1325.9 393.4 1326.9 390.6 1328.0 387.8 1329.1 385.0 1330.1 382.2 1331.2 379.4 1332.3 376.6 1333.4 373.8 1334.4 371.0 1335.5 368.2 1336.6 365.4 1337.7 362.6 1338.8 359.8 1339.9 357.0 1341.0 354.2 1342.1 351.5 1343.2 348.7 1344.3 345.9 1345.4 343.1 1346.5 340.3 1347.6 337.5 1348.7 334.8 1349.8 332.0 1351.0 329.2 1352.1 326.4 1353.2 323.7 1354.4 320.9 1355.5 318.1 1356.7 315.4 1357.8 312.6 1359.0 309.8 1360.1 307.1 1361.3 304.3 1362.5 301.5 1363.6 298.8 1364.8 296.0 1366.0 293.3 1367.2 290.5 1368.3 287.7 1369.5 285.0 1370.7 282.2 1371.8 279.5 1373.0 276.7 1374.2 273.9 1375.3 271.2 1376.5 268.4 1377.7 265.7 1378.8 262.9 1380.0 260.1 1381.2 257.4 1382.3 254.6 1383.5 251.9 1384.7 249.1 1385.9 246.3 1387.1 243.6 1388.4 240.9 1389.6 238.2 1390.9 235.4 1392.3 232.8 1393.6 230.1 1395.0 227.4 1396.4 224.8 1397.9 222.2 1399.4 219.6 1401.0 217.1 1402.6 214.5 1404.3 212.1 1406.0 209.6 1407.8 207.2 1409.6 204.8 1411.4 202.5 1413.3 200.1 1415.3 197.8 1417.2 195.6 1419.3 193.3 1421.3 191.2 1423.5 189.1 1425.8 187.2 1428.3 185.5 1431.0 184.0 1433.8 182.9 1436.7 182.0 1439.7 181.6 1442.7 181.5 1445.7 181.9 1448.7 182.7 1451.5 183.9 1454.2 185.3 1456.7 187.1 1459.0 189.0 1461.1 191.2 1463.0 193.4 1464.9 195.8 1466.6 198.3 1468.3 200.7 1469.9 203.3 1471.4 205.9 1472.8 208.5 1474.1 211.2 1475.4 213.9 1476.5 216.7 1477.7 219.4 1478.8 222.2 1479.8 225.0 1480.8 227.9 1481.8 230.7 1482.8 233.6 1483.7 236.4 1484.7 239.3 1485.6 242.1 1486.5 245.0 1487.3 247.9 1488.2 250.8 1489.0 253.6 1489.8 256.5 1490.6 259.4 1491.4 262.3 1492.2 265.2 1493.0 268.1 1493.8 271.0 1494.6 273.9 1495.3 276.8 1496.1 279.7 1496.8 282.6 1497.6 285.5 1498.3 288.4 1499.0 291.3 1499.8 294.2 1500.5 297.1 1501.2 300.0 1501.9 302.9 1502.7 305.8 1503.4 308.8 1504.1 311.7 1504.8 314.6 1505.5 317.5 1506.3 320.4 1507.0 323.3 1507.7 326.2 1508.4 329.1 1509.1 332.0 1509.8 334.9 1510.6 337.9 1511.3 340.8 1512.0 343.7 1512.7 346.6 1513.5 349.5 1514.2 352.4 1514.9 355.3 1515.6 358.2 1516.4 361.1 1517.1 364.0 1517.8 366.9 1518.6 369.8 1519.3 372.7 1520.0 375.7 1520.7 378.6 1521.5 381.5 1522.2 384.4 1522.9 387.3 1523.7 390.2 1524.4 393.1 1525.2 396.0 1525.9 398.9 1526.6 401.8 1527.4 404.7 1528.1 407.6 1528.9 410.5 1529.6 413.4 1530.4 416.3 1531.2 419.2 1531.9 422.1 1532.7 425.0 1533.5 427.9 1534.3 430.8 1535.1 433.7 1535.8 436.6 1536.7 439.4 1537.5 442.3 1538.3 445.2 1539.1 448.1 1539.9 451.0 1540.8 453.8 1541.6 456.7 1542.4 459.6 1543.3 462.5 1544.1 465.3 1545.0 468.2 1545.8 471.1 1546.6 474.0 1547.5 476.8 1548.3 479.7 1549.1 482.6 1549.9 485.5 1550.7 488.4 1551.5 491.3 1552.2 494.2 1553.0 497.1 1553.7 500.0 1554.4 502.9 1555.0 505.8 1555.7 508.7 1556.3 511.7 1556.9 514.6 1557.5 517.5 1558.0 520.5 1558.6 523.4 1559.1 526.4 1559.6 529.3 1560.1 532.3 1560.6 535.2 1561.1 538.2 1561.6 541.1 1562.0 544.1 1562.5 547.1 1562.9 550.0 1563.3 553.0 1563.7 556.0 1564.2 558.9 1564.6 561.9 1565.0 564.9 1565.4 567.8 1565.8 570.8 1566.2 573.8 1566.6 576.8 1567.0 579.7 1567.4 582.7 1567.7 585.7 1568.1 588.7 1568.5 591.6 1568.9 594.6 1569.3 597.6 1569.7 600.5 1570.1 603.5 1570.5 606.5 1570.9 609.5 1571.3 612.4 1571.7 615.4 1572.1 618.4 1572.5 621.4 1572.9 624.3 1573.3 627.3 1573.7 630.3 1574.1 633.2 1574.5 636.2 1574.9 639.2 1575.3 642.1 1575.7 645.1 1576.1 648.1 1576.5 651.1 1576.9 654.0 1577.3 657.0 1577.7 660.0 1578.1 662.9 1578.5 665.9 1579.0 668.9 1579.4 671.8 1579.8 674.8 1580.2 677.8 1580.5 680.8 1580.9 683.7 1581.3 686.7 1581.7 689.7 1582.1 692.6 1582.5 695.6 1582.9 698.6 1583.3 701.6 1583.7 704.5 1584.1 707.5 1584.4 710.5 1584.8 713.5 1585.2 716.4 1585.6 719.4 1585.9 722.4 1586.3 725.3 1586.7 728.3 1587.1 731.3 1587.5 734.3 1587.8 737.2 1588.2 740.2 1588.6 743.2 1589.0 746.2 1589.4 749.1 1589.8 752.1 1590.1 755.1 1590.5 758.0 1590.9 761.0 1591.3 764.0 1591.7 767.0 1592.1 769.9 1592.5 772.9 1593.0 775.9 1593.4 778.8 1593.8 781.8 1594.2 784.8 1594.7 787.7 1595.1 790.7 1595.5 793.7 1596.0 796.6 1596.5 799.6 1596.9 802.5 1597.4 805.5 1597.9 808.5 1598.4 811.4 1598.8 814.4 1599.3 817.3 1599.8 820.3 1600.3 823.2 1600.8 826.2 1601.3 829.1 1601.9 832.1 1602.4 835.1 1602.9 838.0 1603.4 841.0 1603.9 843.9 1604.4 846.9 1605.0 849.8 1605.5 852.8 1606.0 855.7 1606.6 858.7 1607.1 861.6 1607.6 864.6 1608.1 867.5 1608.7 870.5 1609.2 873.4 1609.7 876.4 1610.3 879.3 1610.8 882.3 1611.3 885.2 1611.8 888.2 1612.4 891.1 1612.9 894.1 1613.4 897.0 1614.0 900.0 1614.5 902.9 1615.0 905.9 1615.5 908.8 1616.1 911.8 1616.6 914.7 1617.1 917.7 1617.6 920.6 1618.2 923.6 1618.7 926.5 1619.2 929.5 1619.7 932.4 1620.3 935.4 1620.8 938.3 1621.3 941.3 1621.8 944.2 1622.4 947.2 1622.9 950.1 1623.4 953.1 1624.0 956.0 1624.5 959.0 1625.0 961.9 1625.6 964.9 1626.1 967.8 1626.6 970.8 1627.2 973.7 1627.7 976.7 1628.2 979.6 1628.8 982.6 1629.3 985.5 1629.9 988.5 1630.4 991.4 1630.9 994.4 1631.5 997.3 1632.0 1000.3 1632.6 1003.2 1633.1 1006.2 1633.6 1009.1 1634.2 1012.0 1634.7 1015.0 1635.3 1017.9 1635.8 1020.9 1636.3 1023.8 1636.9 1026.8 1637.4 1029.7 1637.9 1032.7 1638.5 1035.6 1639.0 1038.6 1639.6 1041.5 1640.1 1044.5 1640.6 1047.4 1641.2 1050.4 1641.7 1053.3 1642.2 1056.3 1642.8 1059.2 1643.3 1062.2 1643.8 1065.1 1644.4 1068.1 1644.9 1071.0 1645.4 1074.0 1646.0 1076.9 1646.5 1079.9 1647.0 1082.8 1647.6 1085.8 1648.1 1088.7 1648.6 1091.7 1649.1 1094.6 1649.7 1097.6 1650.2 1100.5 1650.7 1103.5 1651.2 1106.4 1651.7 1109.4 1652.2 1112.4 1652.7 1115.3 1653.1 1118.3 1653.6 1121.2 1654.1 1124.2 1654.5 1127.2 1655.0 1130.1 1655.4 1133.1 1655.8 1136.1 1656.2 1139.0 1656.6 1142.0"/>
</g>
<g id="xticks" text-anchor="middle">
<text font-size="66" transform="translate(0 1314.90) scale(1 1.04)"><tspan x="305.00" y="0.00" letter-spacing="0.3">1100</tspan></text>
<text font-size="66" transform="translate(0 1314.90) scale(1 1.04)"><tspan x="532.83" y="0.00" letter-spacing="0.3">1200</tspan></text>
<text font-size="66" transform="translate(0 1314.90) scale(1 1.04)"><tspan x="760.67" y="0.00" letter-spacing="0.3">1300</tspan></text>
<text font-size="66" transform="translate(0 1314.90) scale(1 1.04)"><tspan x="988.50" y="0.00" letter-spacing="0.3">1400</tspan></text>
<text font-size="66" transform="translate(0 1314.90) scale(1 1.04)"><tspan x="1216.33" y="0.00" letter-spacing="0.3">1500</tspan></text>
<text font-size="66" transform="translate(0 1314.90) scale(1 1.04)"><tspan x="1444.17" y="0.00" letter-spacing="0.3">1600</tspan></text>
<text font-size="66" transform="translate(0 1314.90) scale(1 1.04)"><tspan x="1672.00" y="0.00" letter-spacing="0.3">1700</tspan></text>
</g>
<g id="yticks" text-anchor="end">
<text font-size="66" transform="translate(0 1164.00) scale(1 1.04)"><tspan x="280.10" y="0.00" letter-spacing="0.3">0.0</tspan></text>
<text font-size="66" transform="translate(0 971.00) scale(1 1.04)"><tspan x="280.10" y="0.00" letter-spacing="0.3">0.2</tspan></text>
<text font-size="66" transform="translate(0 779.00) scale(1 1.04)"><tspan x="280.10" y="0.00" letter-spacing="0.3">0.4</tspan></text>
<text font-size="66" transform="translate(0 587.00) scale(1 1.04)"><tspan x="280.10" y="0.00" letter-spacing="0.3">0.6</tspan></text>
<text font-size="66" transform="translate(0 394.00) scale(1 1.04)"><tspan x="280.10" y="0.00" letter-spacing="0.3">0.8</tspan></text>
<text font-size="66" transform="translate(0 202.00) scale(1 1.04)"><tspan x="280.10" y="0.00" letter-spacing="0.3">1.0</tspan></text>
</g>
<text font-size="98" transform="translate(0 1450.85) scale(1 1)" id="xtitle"><tspan x="613.60" y="0.00" letter-spacing="0.53">Wavelength </tspan><tspan x="1159.70">(nm)</tspan></text>
<text id="ytitle" font-size="98" text-anchor="middle" transform="translate(130.0 662.4) rotate(-90)">Optical power normalized</text>
<g id="legend">
<text font-size="51.7" transform="translate(0 167.90) scale(1 1)"><tspan x="323.80" y="0.00">Device:</tspan></text>
<line x1="323.2" y1="212.8" x2="438.9" y2="212.8" stroke="#515151" stroke-width="6.2" stroke-linecap="round"/>
<text font-size="51.7" transform="translate(0 231.00) scale(1 1.04)"><tspan x="453.50" y="0.00">GROUP </tspan><tspan x="657.70">A </tspan><tspan x="706.90">,1450 </tspan><tspan x="850.50">nm</tspan></text>
<line x1="323.2" y1="277.0" x2="438.9" y2="277.0" stroke="#F14040" stroke-width="6.2" stroke-linecap="round"/>
<text font-size="51.7" transform="translate(0 295.00) scale(1 1.04)"><tspan x="453.50" y="0.00">GROUP </tspan><tspan x="657.80">B, </tspan><tspan x="721.90">1550 </tspan><tspan x="850.50">nm</tspan></text>
<line x1="323.2" y1="340.3" x2="438.9" y2="340.3" stroke="#1A6FDF" stroke-width="6.2" stroke-linecap="round"/>
<text font-size="51.7" transform="translate(0 357.80) scale(1 1.04)"><tspan x="453.50" y="0.00">GROUP </tspan><tspan x="658.60">C, </tspan><tspan x="725.00">1650 </tspan><tspan x="853.60">nm</tspan></text>
</g>
<text font-size="72.4" transform="translate(0 472.90) scale(1 1)" id="note" font-weight="bold"><tspan x="334.00" y="0.00">Unaged </tspan><tspan x="618.80">devices</tspan></text>
<text font-size="59.7" transform="translate(0 633.60) scale(1 1.04)" id="tamb"><tspan x="412.60" y="0.00">T</tspan><tspan x="449.30" dy="14.81" font-size="40.5">AMB </tspan><tspan x="553.80" dy="-14.81">= </tspan><tspan x="605.20">25 </tspan><tspan x="688.40">°</tspan><tspan x="713.70">C</tspan></text>
<text font-size="59.7" transform="translate(0 720.90) scale(1 1.04)" id="ibias"><tspan x="411.70" y="0.00">I</tspan><tspan x="428.90" dy="14.81" font-size="40.5">BIAS </tspan><tspan x="538.80" dy="-14.81">= </tspan><tspan x="591.90">50 </tspan><tspan x="674.00">mA</tspan></text>
</svg>
</body></html>
